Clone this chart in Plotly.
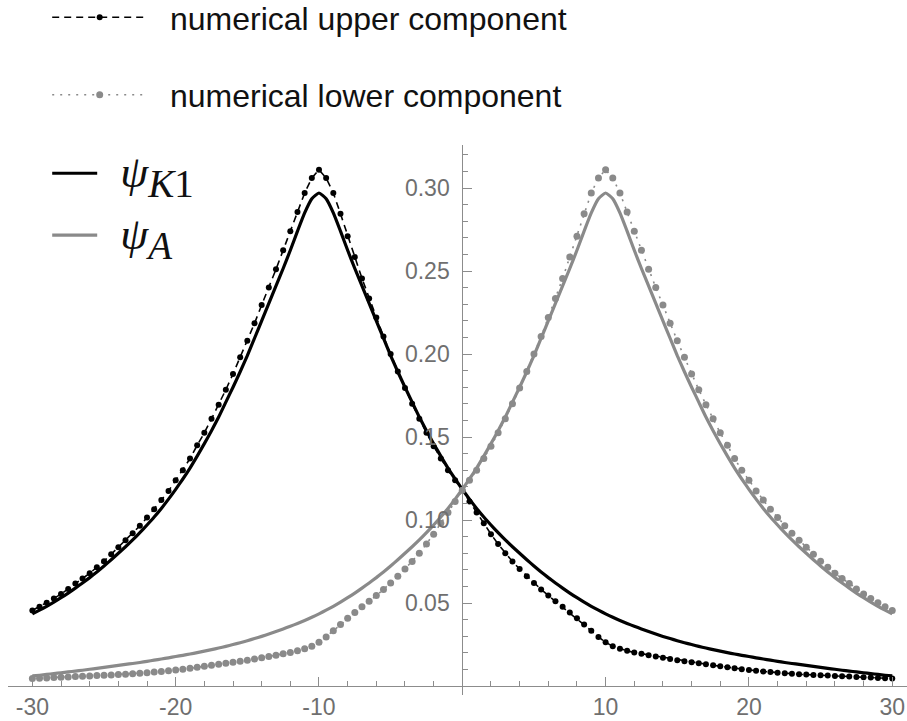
import plotly.graph_objects as go

# ---------------- data ----------------
x_grid = [-30.0, -29.5, -29.0, -28.5, -28.0, -27.5, -27.0, -26.5, -26.0, -25.5,
          -25.0, -24.5, -24.0, -23.5, -23.0, -22.5, -22.0, -21.5, -21.0, -20.5,
          -20.0, -19.5, -19.0, -18.5, -18.0, -17.5, -17.0, -16.5, -16.0, -15.5,
          -15.0, -14.5, -14.0, -13.5, -13.0, -12.5, -12.0, -11.5, -11.0, -10.5,
          -10.0, -9.5, -9.0, -8.5, -8.0, -7.5, -7.0, -6.5, -6.0, -5.5,
          -5.0, -4.5, -4.0, -3.5, -3.0, -2.5, -2.0, -1.5, -1.0, -0.5,
          0.0, 0.5, 1.0, 1.5, 2.0, 2.5, 3.0, 3.5, 4.0, 4.5,
          5.0, 5.5, 6.0, 6.5, 7.0, 7.5, 8.0, 8.5, 9.0, 9.5,
          10.0, 10.5, 11.0, 11.5, 12.0, 12.5, 13.0, 13.5, 14.0, 14.5,
          15.0, 15.5, 16.0, 16.5, 17.0, 17.5, 18.0, 18.5, 19.0, 19.5,
          20.0, 20.5, 21.0, 21.5, 22.0, 22.5, 23.0, 23.5, 24.0, 24.5,
          25.0, 25.5, 26.0, 26.5, 27.0, 27.5, 28.0, 28.5, 29.0, 29.5,
          30.0]

psi_K1 = [0.0435, 0.0457, 0.0480, 0.0505, 0.0532, 0.0560, 0.0590, 0.0621, 0.0653, 0.0687,
          0.0723, 0.0761, 0.0800, 0.0839, 0.0880, 0.0924, 0.0970, 0.1018, 0.1070, 0.1126,
          0.1185, 0.1247, 0.1313, 0.1385, 0.1460, 0.1538, 0.1620, 0.1710, 0.1800, 0.1893,
          0.1990, 0.2095, 0.2200, 0.2305, 0.2410, 0.2515, 0.2625, 0.2740, 0.2850, 0.2935,
          0.2970, 0.2935, 0.2850, 0.2740, 0.2625, 0.2515, 0.2410, 0.2305, 0.2200, 0.2095,
          0.1990, 0.1893, 0.1800, 0.1710, 0.1620, 0.1538, 0.1460, 0.1385, 0.1313, 0.1247,
          0.1185, 0.1126, 0.1070, 0.1018, 0.0970, 0.0924, 0.0880, 0.0839, 0.0800, 0.0761,
          0.0723, 0.0687, 0.0653, 0.0621, 0.0590, 0.0560, 0.0532, 0.0505, 0.0480, 0.0457,
          0.0435, 0.0414, 0.0395, 0.0377, 0.0360, 0.0344, 0.0328, 0.0313, 0.0299, 0.0286,
          0.0273, 0.0261, 0.0250, 0.0239, 0.0229, 0.0219, 0.0210, 0.0201, 0.0193, 0.0185,
          0.0178, 0.0170, 0.0163, 0.0156, 0.0149, 0.0142, 0.0136, 0.0130, 0.0124, 0.0118,
          0.0112, 0.0106, 0.0101, 0.0095, 0.0090, 0.0085, 0.0080, 0.0075, 0.0070, 0.0065,
          0.0061]

psi_A = [0.0061, 0.0065, 0.0070, 0.0075, 0.0080, 0.0085, 0.0090, 0.0095, 0.0101, 0.0106,
         0.0112, 0.0118, 0.0124, 0.0130, 0.0136, 0.0142, 0.0149, 0.0156, 0.0163, 0.0170,
         0.0178, 0.0185, 0.0193, 0.0201, 0.0210, 0.0219, 0.0229, 0.0239, 0.0250, 0.0261,
         0.0273, 0.0286, 0.0299, 0.0313, 0.0328, 0.0344, 0.0360, 0.0377, 0.0395, 0.0414,
         0.0435, 0.0457, 0.0480, 0.0505, 0.0532, 0.0560, 0.0590, 0.0621, 0.0653, 0.0687,
         0.0723, 0.0761, 0.0800, 0.0839, 0.0880, 0.0924, 0.0970, 0.1018, 0.1070, 0.1126,
         0.1185, 0.1247, 0.1313, 0.1385, 0.1460, 0.1538, 0.1620, 0.1710, 0.1800, 0.1893,
         0.1990, 0.2095, 0.2200, 0.2305, 0.2410, 0.2515, 0.2625, 0.2740, 0.2850, 0.2935,
         0.2970, 0.2935, 0.2850, 0.2740, 0.2625, 0.2515, 0.2410, 0.2305, 0.2200, 0.2095,
         0.1990, 0.1893, 0.1800, 0.1710, 0.1620, 0.1538, 0.1460, 0.1385, 0.1313, 0.1247,
         0.1185, 0.1126, 0.1070, 0.1018, 0.0970, 0.0924, 0.0880, 0.0839, 0.0800, 0.0761,
         0.0723, 0.0687, 0.0653, 0.0621, 0.0590, 0.0560, 0.0532, 0.0505, 0.0480, 0.0457,
         0.0435]

upper_num = [0.0455, 0.0478, 0.0502, 0.0528, 0.0554, 0.0585, 0.0617, 0.0648, 0.0679, 0.0716,
             0.0752, 0.0794, 0.0836, 0.0878, 0.0920, 0.0965, 0.1015, 0.1065, 0.1120, 0.1175,
             0.1240, 0.1300, 0.1370, 0.1450, 0.1525, 0.1610, 0.1695, 0.1785, 0.1880, 0.1980,
             0.2080, 0.2185, 0.2295, 0.2400, 0.2510, 0.2625, 0.2740, 0.2855, 0.2970, 0.3060,
             0.3110, 0.3060, 0.2970, 0.2845, 0.2710, 0.2585, 0.2455, 0.2335, 0.2220, 0.2105,
             0.2000, 0.1895, 0.1795, 0.1700, 0.1610, 0.1525, 0.1445, 0.1370, 0.1300, 0.1240,
             0.1180, 0.1112, 0.1045, 0.0980, 0.0915, 0.0855, 0.0800, 0.0750, 0.0705, 0.0662,
             0.0620, 0.0582, 0.0545, 0.0510, 0.0478, 0.0443, 0.0408, 0.0370, 0.0333, 0.0296,
             0.0263, 0.0240, 0.0224, 0.0212, 0.0202, 0.0195, 0.0186, 0.0178, 0.0170, 0.0163,
             0.0156, 0.0150, 0.0144, 0.0137, 0.0131, 0.0125, 0.0119, 0.0113, 0.0107, 0.0101,
             0.0096, 0.0092, 0.0088, 0.0084, 0.0080, 0.0077, 0.0074, 0.0071, 0.0069, 0.0067,
             0.0065, 0.0063, 0.0061, 0.0059, 0.0057, 0.0055, 0.0053, 0.0051, 0.0049, 0.0047,
             0.0045]

lower_num = [0.0045, 0.0047, 0.0049, 0.0051, 0.0053, 0.0055, 0.0057, 0.0059, 0.0061, 0.0063,
             0.0065, 0.0067, 0.0069, 0.0071, 0.0074, 0.0077, 0.0080, 0.0084, 0.0088, 0.0092,
             0.0096, 0.0101, 0.0107, 0.0113, 0.0119, 0.0125, 0.0131, 0.0137, 0.0144, 0.0150,
             0.0156, 0.0163, 0.0170, 0.0178, 0.0186, 0.0195, 0.0202, 0.0212, 0.0224, 0.0240,
             0.0263, 0.0296, 0.0333, 0.0370, 0.0408, 0.0443, 0.0478, 0.0510, 0.0545, 0.0582,
             0.0620, 0.0662, 0.0705, 0.0750, 0.0800, 0.0855, 0.0915, 0.0980, 0.1045, 0.1112,
             0.1180, 0.1240, 0.1300, 0.1370, 0.1445, 0.1525, 0.1610, 0.1700, 0.1795, 0.1895,
             0.2000, 0.2105, 0.2220, 0.2335, 0.2455, 0.2585, 0.2710, 0.2845, 0.2970, 0.3060,
             0.3110, 0.3060, 0.2970, 0.2855, 0.2740, 0.2625, 0.2510, 0.2400, 0.2295, 0.2185,
             0.2080, 0.1980, 0.1880, 0.1785, 0.1695, 0.1610, 0.1525, 0.1450, 0.1370, 0.1300,
             0.1240, 0.1175, 0.1120, 0.1065, 0.1015, 0.0965, 0.0920, 0.0878, 0.0836, 0.0794,
             0.0752, 0.0716, 0.0679, 0.0648, 0.0617, 0.0585, 0.0554, 0.0528, 0.0502, 0.0478,
             0.0455]

x_tickvals = [-30, -20, -10, 10, 20, 30]
x_ticktext = ["-30", "-20", "-10", "10", "20", "30"]
y_tickvals = [0.05, 0.10, 0.15, 0.20, 0.25, 0.30]
y_ticktext = ["0.05", "0.10", "0.15", "0.20", "0.25", "0.30"]

names = ["numerical upper component", "numerical lower component",
         '<span style="font-size:45px"><i>ψ</i><sub><span style="font-size:39px">'
         '<i>K</i>1</span></sub></span>',
         '<span style="font-size:45px"><i>ψ</i><sub><span style="font-size:39px">'
         '<i>A</i></span></sub></span>']

assert len(psi_K1) == len(x_grid) == len(psi_A)
assert len(upper_num) == len(x_grid) == len(lower_num)

# ---------------- styling ----------------
BLACK = "#000000"
GRAY = "#8a8a8a"
AXIS = "#8c8c8c"
TICKLAB = "#6f6f6f"
NBSP = "\u00a0"

X_RANGE = [-31.7, 31.03]
Y_RANGE = [-0.0054, 0.3259]
y_axis_pos = (0 - X_RANGE[0]) / (X_RANGE[1] - X_RANGE[0])
x_axis_pos = (0 - Y_RANGE[0]) / (Y_RANGE[1] - Y_RANGE[0])

fig = go.Figure()

fig.add_trace(go.Scatter(x=x_grid, y=psi_K1, mode="lines", name=NBSP * 2 + names[2],
                         line=dict(color=BLACK, width=3.2, shape="spline", smoothing=0.5),
                         legend="legend2", legendgroup="k1"))
fig.add_trace(go.Scatter(x=x_grid, y=psi_A, mode="lines", name=NBSP * 2 + names[3],
                         line=dict(color=GRAY, width=3.2, shape="spline", smoothing=0.5),
                         legend="legend2", legendgroup="a"))
fig.add_trace(go.Scatter(x=x_grid, y=upper_num, mode="lines+markers",
                         name=NBSP * 2 + names[0],
                         line=dict(color=BLACK, width=1.6, dash="7px,5px"),
                         marker=dict(size=6, color=BLACK),
                         legend="legend", legendgroup="up"))
fig.add_trace(go.Scatter(x=x_grid, y=lower_num, mode="lines+markers",
                         name=NBSP * 2 + names[1],
                         line=dict(color=GRAY, width=1.6, dash="2px,6px"),
                         marker=dict(size=7, color=GRAY),
                         legend="legend", legendgroup="lo"))

axis_common = dict(showgrid=False, zeroline=False, showline=True, linecolor=AXIS,
                   linewidth=1, ticks="inside", ticklen=9, tickwidth=1, tickcolor=AXIS,
                   tickmode="array", anchor="free",
                   tickfont=dict(family="Liberation Sans, Arial, sans-serif", size=23,
                                 color=TICKLAB))

fig.update_layout(
    width=907, height=721,
    margin=dict(l=8, r=0, t=145, b=26, autoexpand=False),
    paper_bgcolor="white", plot_bgcolor="white",
    xaxis=dict(range=X_RANGE, domain=[0, 1], position=x_axis_pos,
               tickvals=x_tickvals, ticktext=x_ticktext,
               minor=dict(ticks="inside", ticklen=5, tickwidth=1, tickcolor=AXIS,
                          tickmode="linear", tick0=0, dtick=2, showgrid=False),
               **axis_common),
    yaxis=dict(range=Y_RANGE, domain=[0, 1], position=y_axis_pos, side="left",
               tickvals=y_tickvals, ticktext=y_ticktext, ticklabelstandoff=8,
               minor=dict(ticks="inside", ticklen=5, tickwidth=1, tickcolor=AXIS,
                          tickmode="linear", tick0=0, dtick=0.01, showgrid=False),
               **axis_common),
    legend=dict(x=0.0436, y=1.282, xanchor="left", yanchor="top",
                bgcolor="rgba(0,0,0,0)", itemwidth=95, tracegroupgap=33,
                font=dict(family="Liberation Sans, Arial, sans-serif", size=32,
                          color="#111111")),
    legend2=dict(x=0.0436, y=1.003, xanchor="left", yanchor="top",
                 bgcolor="rgba(0,0,0,0)", itemwidth=45, tracegroupgap=12,
                 font=dict(family="Liberation Serif, DejaVu Serif, serif", size=36,
                           color="#111111")),
    showlegend=True,
)

fig.write_html("out.html",
               config={"displayModeBar": False},
               post_script="document.body.style.margin='0px';"
                           "document.body.style.overflow='hidden';")
